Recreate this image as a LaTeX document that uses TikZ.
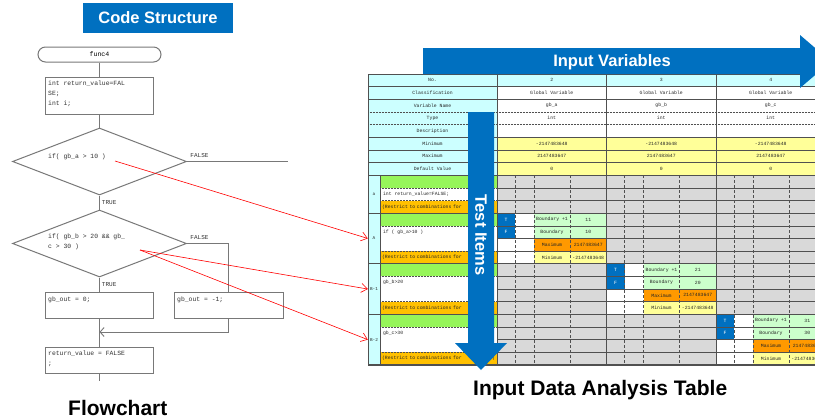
\documentclass[tikz,border=0pt]{standalone}
\usepackage{fontspec}
\setmainfont{Liberation Sans}
\newfontfamily\monofont{Liberation Mono}
\usetikzlibrary{shapes.geometric,arrows.meta,positioning}

\definecolor{darkblue}{RGB}{0,112,192}
\definecolor{flowgray}{RGB}{120,120,120}
\definecolor{cyanbg}{RGB}{204,255,255}
\definecolor{yellowbg}{RGB}{255,255,153}
\definecolor{greenbg}{RGB}{150,245,90}
\definecolor{restrictbg}{RGB}{255,192,0}
\definecolor{maxbg}{RGB}{255,153,0}
\definecolor{boundbg}{RGB}{204,255,204}
\definecolor{graybg}{RGB}{217,217,217}
\definecolor{gridcol}{RGB}{80,80,80}

\tikzset{
  headbox/.style={fill=darkblue, text=white, inner sep=0pt, font=\bfseries\fontsize{16.5}{18}\selectfont},
  bigcap/.style={inner sep=0pt, font=\bfseries\fontsize{21}{24}\selectfont},
  flowline/.style={draw=flowgray, line width=0.9pt},
  flowbox/.style={draw=flowgray, line width=1pt, minimum width=108pt, minimum height=26pt, inner sep=0pt},
  terminal/.style={draw=flowgray, line width=1pt, rounded corners=7.5pt, minimum width=123pt, minimum height=15pt, inner sep=0pt, font=\monofont\fontsize{6.6}{7}\selectfont},
  decision/.style={draw=flowgray, line width=1pt, diamond, minimum width=174pt, minimum height=67pt, inner sep=0pt},
  codetext/.style={font=\monofont\fontsize{6.4}{9.7}\selectfont, text=black!80, align=left, inner sep=0pt, anchor=north west},
  branch/.style={font=\monofont\fontsize{6}{6}\selectfont, text=black!80, inner sep=0pt},
  link/.style={draw=red, line width=0.6pt, -{Straight Barb[length=6pt,width=9pt]}},
  cell/.style={minimum width=#1, minimum height=12.65pt, inner sep=0pt, font=\monofont\fontsize{4.8}{5.5}\selectfont, text=black!85},
  celltext/.style={inner sep=0pt, anchor=north west, font=\monofont\fontsize{4.8}{5.5}\selectfont, text=black!85},
  tableline/.style={draw=gridcol, line width=0.5pt}
}

\begin{document}
\begin{tikzpicture}[x=1pt, y=-1pt]
\useasboundingbox[fill=white] (0,0) rectangle (815,418);

% Code structure title
\node[headbox, minimum width=150pt, minimum height=30pt] (codehead) at (158,18) {Code Structure};

% Flowchart
\node[terminal] (start) at (99.5,54.5) {func4};
\node[flowbox, minimum height=37pt] (decl) at (99.5,95.5) {};
\node[codetext] (decltext) at (48,81) {int return\_value=FAL\\SE;\\int i;};
\node[decision] (cond1) at (99.5,161.5) {};
\node[codetext, anchor=west] (cond1text) at (48,157) {if( gb\_a > 10 )};
\node[decision] (cond2) at (99.5,243.5) {};
\node[codetext] (cond2text) at (48,234) {if( gb\_b > 20 \&\& gb\_\\c > 30 )};
\node[flowbox] (out0) at (99.5,305) {};
\node[codetext, anchor=west] (out0text) at (48,300) {gb\_out = 0;};
\node[flowbox, minimum width=109pt] (out1) at (228.5,305) {};
\node[codetext, anchor=west] (out1text) at (177,300) {gb\_out = -1;};
\node[flowbox] (ret) at (99.5,360) {};
\node[codetext] (rettext) at (48,351) {return\_value = FALSE\\;};
\coordinate (false1) at (288,161.5);
\coordinate (merge) at (99.5,332);
\coordinate (stop) at (99.5,381);

\draw[flowline] (start) -- (decl);
\draw[flowline] (decl) -- (cond1);
\draw[flowline] (cond1) -- node[branch, right=2pt] (true1) {TRUE} (cond2);
\draw[flowline] (cond1.east) -- (false1) node[branch, pos=0, anchor=south west, xshift=3pt, yshift=3pt] (false1lab) {FALSE};
\draw[flowline] (cond2) -- node[branch, right=2pt] (true2) {TRUE} (out0);
\draw[flowline] (cond2.east) -| (out1.north) node[branch, pos=0, anchor=south west, xshift=3pt, yshift=3pt] (false2lab) {FALSE};
\draw[flowline, -{Straight Barb[length=4pt,width=9pt]}] (out1.south) |- (merge);
\draw[flowline] (out0) -- (ret);
\draw[flowline] (ret) -- (stop);

\node[bigcap, anchor=base west] (flowcap) at (68,415) {Flowchart};

% Input data analysis table
\def\rh{12.65}
\begin{scope}
\clip (360,30) rectangle (815,375);
% item names
\foreach \lab [count=\i from 0] in {No.,Classification,Variable Name,Type,Description,Minimum,Maximum,Default Value}
  \node[cell=129pt, fill=cyanbg] (item\i) at (432.5,{74+(\i+0.5)*\rh}) {\lab};
% variable columns
\foreach \no/\vname [count=\j from 0] in {2/gb\_a,3/gb\_b,4/gb\_c}{
  \pgfmathsetmacro\cx{551.75+\j*109.5}
  \node[cell=109.5pt, fill=cyanbg] (no\j) at (\cx,{74+0.5*\rh}) {\no};
  \node[cell=109.5pt, fill=white] (cls\j) at (\cx,{74+1.5*\rh}) {Global Variable};
  \node[cell=109.5pt, fill=white] (name\j) at (\cx,{74+2.5*\rh}) {\vname};
  \node[cell=109.5pt, fill=white] (type\j) at (\cx,{74+3.5*\rh}) {int};
  \node[cell=109.5pt, fill=white] (desc\j) at (\cx,{74+4.5*\rh}) {};
  \node[cell=109.5pt, fill=yellowbg] (min\j) at (\cx,{74+5.5*\rh}) {-2147483648};
  \node[cell=109.5pt, fill=yellowbg] (max\j) at (\cx,{74+6.5*\rh}) {2147483647};
  \node[cell=109.5pt, fill=yellowbg] (def\j) at (\cx,{74+7.5*\rh}) {0};
}
% test items
\foreach \g/\s/\n/\txt [count=\k] in {a/8/3/{int return\_value=FALSE;},A/11/4/{if ( gb\_a>10 )},B-1/15/4/{gb\_b>20},B-2/19/4/{gb\_c>30}}{
  \node[cell=12pt, minimum height={\n*12.65pt}, fill=cyanbg, font=\monofont\fontsize{4.4}{5}\selectfont] (grp\k) at (374,{74+(\s+\n/2)*\rh}) {\g};
  \node[cell=117pt, fill=greenbg] (green\k) at (438.5,{74+(\s+0.5)*\rh}) {};
  \node[cell=117pt, minimum height={(\n-2)*12.65pt}, fill=white] (cond\k) at (438.5,{74+(\s+\n/2)*\rh}) {};
  \node[celltext] (condtext\k) at ([shift={(3pt,-4pt)}]cond\k.north west) {\txt};
  \node[cell=117pt, fill=restrictbg, text width=113pt, align=left] (restr\k) at (438.5,{74+(\s+\n-0.5)*\rh}) {(Restrict to combinations for\hfill)};
}
\fill[graybg] (497,{74+8*\rh}) rectangle (825.5,{74+23*\rh});
\foreach \c/\s/\v [count=\k] in {0/11/11,1/15/21,2/19/31}{
  \pgfmathsetmacro\cx{497+\c*109.5}
  \pgfmathtruncatemacro\vm{\v-1}
  \node[cell=18pt, fill=darkblue, text=white] (t\k) at ({\cx+9},{74+(\s+0.5)*\rh}) {T};
  \node[cell=18pt, fill=darkblue, text=white] (f\k) at ({\cx+9},{74+(\s+1.5)*\rh}) {F};
  \node[cell=18pt, minimum height=25.3pt, fill=white] (blank\k) at ({\cx+9},{74+(\s+3)*\rh}) {};
  \node[cell=19pt, minimum height=50.6pt, fill=white] (gap\k) at ({\cx+27.5},{74+(\s+2)*\rh}) {};
  \node[cell=36pt, fill=boundbg] (bp\k) at ({\cx+55},{74+(\s+0.5)*\rh}) {Boundary +1};
  \node[cell=36.5pt, fill=boundbg] (bpv\k) at ({\cx+91.25},{74+(\s+0.5)*\rh}) {\v};
  \node[cell=36pt, fill=boundbg] (b\k) at ({\cx+55},{74+(\s+1.5)*\rh}) {Boundary};
  \node[cell=36.5pt, fill=boundbg] (bv\k) at ({\cx+91.25},{74+(\s+1.5)*\rh}) {\vm};
  \node[cell=36pt, fill=maxbg] (mx\k) at ({\cx+55},{74+(\s+2.5)*\rh}) {Maximum};
  \node[cell=36.5pt, fill=maxbg] (mxv\k) at ({\cx+91.25},{74+(\s+2.5)*\rh}) {2147483647};
  \node[cell=36pt, fill=yellowbg] (mn\k) at ({\cx+55},{74+(\s+3.5)*\rh}) {Minimum};
  \node[cell=36.5pt, fill=yellowbg] (mnv\k) at ({\cx+91.25},{74+(\s+3.5)*\rh}) {-2147483648};
}
% grid lines
\foreach \i in {0,1,2,6} \draw[tableline] (368,{74+\i*\rh}) -- (825.5,{74+\i*\rh});
\foreach \i in {3,4} \draw[tableline, densely dotted] (368,{74+\i*\rh}) -- (825.5,{74+\i*\rh});
\foreach \i in {5,7,8,11,15,19,23} \draw[tableline, line width=1.1pt] (368,{74+\i*\rh}) -- (825.5,{74+\i*\rh});
\foreach \i in {9,10,12,13,14,16,17,18,20,21,22} \draw[tableline] (497,{74+\i*\rh}) -- (825.5,{74+\i*\rh});
\foreach \i in {9,10,12,14,16,18,20,22} \draw[tableline, densely dotted] (380,{74+\i*\rh}) -- (497,{74+\i*\rh});
\foreach \x in {368,497,606.5,716} \draw[tableline, line width=0.9pt] (\x,74) -- (\x,{74+23*\rh});
\draw[tableline] (380,{74+8*\rh}) -- (380,{74+23*\rh});
\foreach \c in {0,1,2} \foreach \d in {18,37,73}
  \draw[tableline, densely dashed] ({497+\c*109.5+\d},{74+8*\rh}) -- ++(0,{15*\rh});
\end{scope}

% Input variables arrow
\fill[darkblue] (423,48) -- (800,48) -- (800,35) -- (831,61.5) -- (800,88) -- (800,74) -- (423,74) -- cycle;
\node[text=white, font=\bfseries\fontsize{16.5}{18}\selectfont, inner sep=0pt] (varhead) at (612,62) {Input Variables};

% Test items arrow
\fill[darkblue] (468,112) -- (494,112) -- (494,343) -- (507,343) -- (481,370) -- (455,343) -- (468,343) -- cycle;
\node[rotate=-90, text=white, font=\bfseries\fontsize{16.5}{18}\selectfont, inner sep=0pt] (testhead) at (481,235) {Test Items};

\node[bigcap, anchor=base west] (tablecap) at (473,395) {Input Data Analysis Table};

% Links from conditions to test items
\coordinate (link1) at (115,161);
\coordinate (link2) at (140,250);
\draw[link] (link1) -- (grp2.west);
\draw[link] (link2) -- (grp3.west);
\draw[link] (link2) -- (grp4.west);
\end{tikzpicture}
\end{document}
